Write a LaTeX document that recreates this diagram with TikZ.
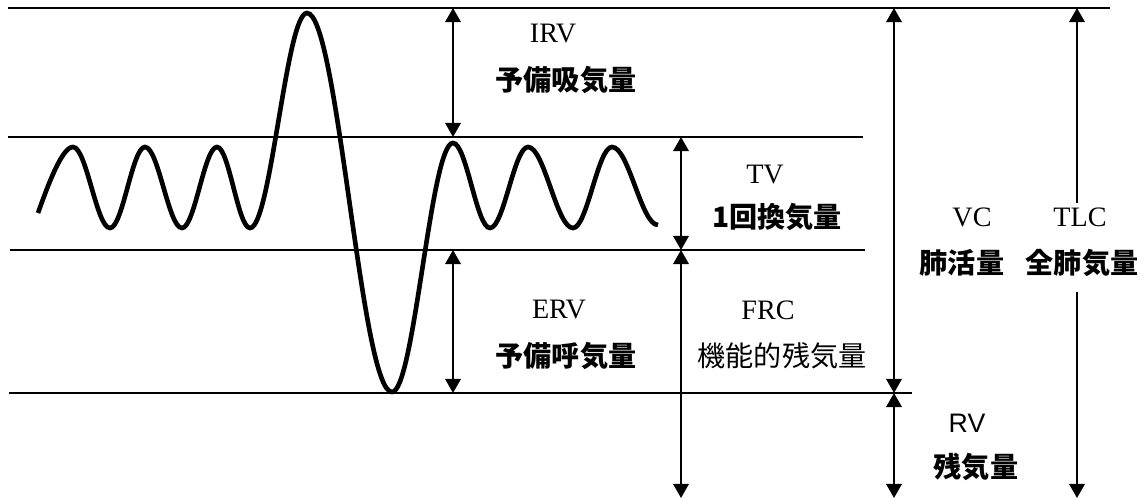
\documentclass[tikz,border=0pt]{standalone}
\usepackage{fontspec}
\setmainfont{Liberation Serif}
\newfontfamily\jpfont{Noto Sans CJK JP}
\newfontfamily\rvfont{Liberation Sans}
\usetikzlibrary{arrows.meta}

\begin{document}
\begin{tikzpicture}[x=0.025cm, y=-0.025cm,
  lvl/.style={line width=1.4pt},
  dim/.style={line width=1.4pt, {Triangle[length=10pt,width=11pt]}-{Triangle[length=10pt,width=11pt]}},
  onetip/.style={line width=1.4pt, -{Triangle[length=10pt,width=11pt]}},
  wave/.style={line width=3.3pt},
  ser/.style={font=\fontsize{20}{24}\selectfont},
  jpb/.style={font=\jpfont\bfseries\fontsize{20}{24}\selectfont},
  jpr/.style={font=\jpfont\fontsize{20}{24}\selectfont}]
\useasboundingbox (0,0) rectangle (1146,500);

% level lines
\coordinate (t0) at (8,8);    \coordinate (t1) at (1110,8);
\coordinate (m0) at (8,137);  \coordinate (m1) at (863,137);
\coordinate (e0) at (10,250); \coordinate (e1) at (865,250);
\coordinate (r0) at (9,393);  \coordinate (r1) at (912,393);
\coordinate (bt) at (0,498);
\draw[lvl] (t0) -- (t1);
\draw[lvl] (m0) -- (m1);
\draw[lvl] (e0) -- (e1);
\draw[lvl] (r0) -- (r1);

% columns of the arrows
\coordinate (cA) at (453,0);
\coordinate (cB) at (681,0);
\coordinate (cC) at (894,0);
\coordinate (cD) at (1077,0);

% spirogram
\draw[wave] (38,213) .. controls (48,185) and (62,147) .. (73,147)
  cos (91.5,187.5) sin (110,228) cos (127.5,187.5) sin (145,147)
  cos (163.5,187.5) sin (182,228) cos (199.5,187.5) sin (217,147)
  cos (233.5,187.5) sin (250,228) cos (278.5,120.5) sin (307,13)
  cos (349.5,202.5) sin (392,392) cos (422.5,267.5) sin (453,143)
  cos (471.5,185.5) sin (490,228) cos (509,187.5) sin (528,147)
  cos (550.5,187.5) sin (573,228) cos (592.5,187.5) sin (612,147)
  cos (635,186) sin (658,225);

% labels
\node[ser] (irv) at (553,34) {IRV};
\node[jpb] (irvj) at (566,80) {予備吸気量};
\node[ser] (tv) at (765,175) {TV};
\node[jpb] (tvj) at (777,217) {1回換気量};
\node[ser] (erv) at (559,310) {ERV};
\node[jpb] (ervj) at (566,356) {予備呼気量};
\node[ser] (frc) at (768,310) {FRC};
\node[jpr] (frcj) at (782,356) {機能的残気量};
\node[ser] (vc) at (972,217) {VC};
\node[jpb] (vcj) at (962,263) {肺活量};
\node[ser] (tlc) at (1080,217) {TLC};
\node[jpb] (tlcj) at (1082,263) {全肺気量};
\node[font=\rvfont\fontsize{19}{23}\selectfont] (rv) at (967,423) {RV};
\node[jpb] (rvj) at (976,467) {残気量};

% volume arrows
\draw[dim] (cA |- t0) -- (cA |- m0);
\draw[dim] (cB |- m0) -- (cB |- e0);
\draw[dim] (cA |- e0) -- (cA |- r0);
\draw[dim] (cB |- e0) -- (cB |- bt);
\draw[dim] (cC |- t0) -- (cC |- r0);
\draw[dim] (cC |- r0) -- (cC |- bt);
\draw[onetip] (cD |- tlc.north) -- (cD |- t0);
\draw[onetip, shorten <=7pt] (cD |- tlcj.south) -- (cD |- bt);
\end{tikzpicture}
\end{document}
